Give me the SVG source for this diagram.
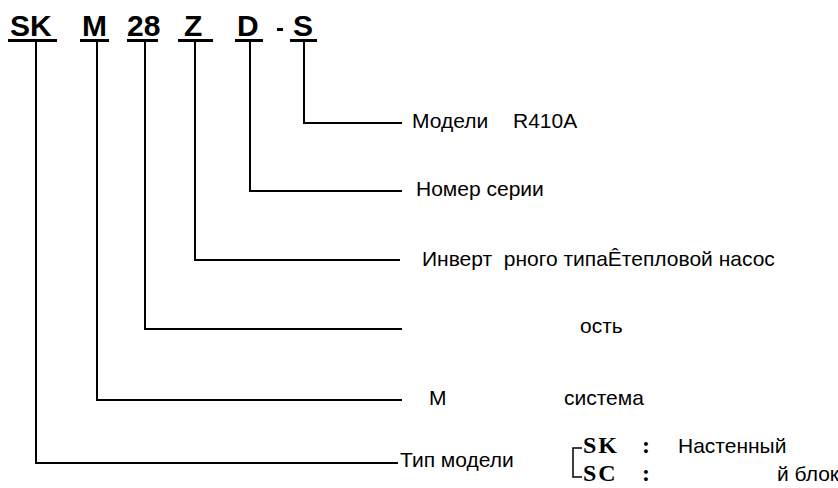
<svg xmlns="http://www.w3.org/2000/svg" width="838" height="488" viewBox="0 0 838 488">
<style>
.code{font-family:"Liberation Sans",Arial,sans-serif;font-weight:bold;font-size:30px;fill:#000}
.lbl{font-family:"Liberation Sans",Arial,sans-serif;font-size:21px;fill:#000}
.tb{font-family:"Liberation Serif","Times New Roman",serif;font-weight:bold;font-size:24px;fill:#000}
.ul{stroke:#000;stroke-width:3;fill:none}
.cn{stroke:#000;stroke-width:2;fill:none}
.br{stroke:#000;stroke-width:1.5;fill:none}
</style>
<rect width="838" height="488" fill="#fff"/>
<g id="code">
<text class="code" x="10" y="36">SK</text>
<text class="code" x="82" y="36">M</text>
<text class="code" x="127" y="36">28</text>
<text class="code" x="184" y="36">Z</text>
<text class="code" x="237" y="36">D</text>
<rect x="277" y="28" width="6" height="3" fill="#000"/>
<text class="code" x="293" y="36">S</text>
<path class="ul" d="M8 40.5H57M80 40.5H109M127 40.5H158M178 40.5H213M235 40.5H263M290 40.5H317"/>
</g>
<g id="connectors">
<polyline class="cn" points="304,41 304,123 402,123"/>
<polyline class="cn" points="250,41 250,191 402,191"/>
<polyline class="cn" points="195,41 195,260 400,260"/>
<polyline class="cn" points="145,41 145,329 402,329"/>
<polyline class="cn" points="97,41 97,400 402,400"/>
<polyline class="cn" points="36,41 36,463 398,463"/>
</g>
<g id="n-refrigerant"><text class="lbl" x="412" y="128">Модели</text><text class="lbl" x="513" y="128">R410A</text></g>
<g id="n-series"><text class="lbl" x="416" y="196">Номер серии</text></g>
<g id="n-inverter"><text class="lbl" x="422" y="266" xml:space="preserve">Инверт  рного типаÊтепловой насос</text></g>
<g id="n-capacity"><text class="lbl" x="580" y="333">ость</text></g>
<g id="n-system"><text class="lbl" x="429" y="405">М</text><text class="lbl" x="564" y="405">система</text></g>
<g id="n-type"><text class="lbl" x="400" y="467">Тип модели</text></g>
<g id="n-legend">
<polyline class="br" points="582,448 573,448 573,477 582,477"/>
<text class="tb" x="583" y="453" letter-spacing="2">SK</text><text class="tb" x="642" y="453">:</text>
<text class="tb" x="583" y="481" letter-spacing="2">SC</text><text class="tb" x="642" y="481">:</text>
<text class="lbl" x="678" y="453">Настенный</text>
<text class="lbl" x="777" y="481">й блок</text>
</g>
</svg>
